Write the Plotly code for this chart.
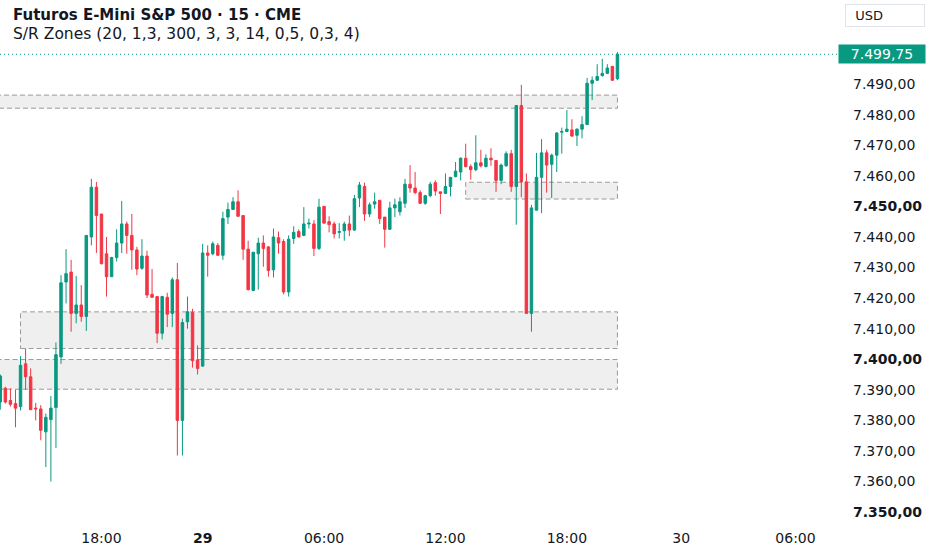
import plotly.graph_objects as go

# 15-minute bars (bar 0 = 28th 13:00)
bar_open = [
    7386.0, 7390.5, 7386.5, 7385.5, 7384.5, 7398.5, 7394.25, 7384.0, 7383.75, 7376.25,
    7380.25, 7384.25, 7400.75, 7425.25, 7428.5, 7415.0, 7417.75, 7414.0, 7440.0, 7456.25,
    7447.5, 7434.5, 7427.0, 7433.25, 7438.0, 7444.25, 7440.5, 7435.75, 7429.75, 7433.75,
    7421.25, 7420.5, 7408.5, 7420.25, 7415.0, 7426.0, 7380.0, 7412.25, 7415.25, 7399.75,
    7397.75, 7434.75, 7434.5, 7437.25, 7434.0, 7446.5, 7449.0, 7451.5, 7447.0, 7436.0,
    7422.5, 7434.5, 7438.0, 7436.75, 7429.25, 7439.75, 7438.5, 7422.0, 7439.5, 7441.75,
    7440.5, 7444.25, 7444.25, 7436.25, 7450.0, 7445.0, 7444.25, 7441.5, 7442.0, 7444.25,
    7442.25, 7452.75, 7456.5, 7447.5, 7450.75, 7452.0, 7446.5, 7442.5, 7449.5, 7448.25,
    7451.0, 7457.25, 7456.0, 7454.5, 7451.0, 7453.5, 7457.75, 7454.75, 7454.25, 7456.5,
    7459.75, 7461.25, 7465.75, 7463.0, 7462.0, 7464.25, 7463.0, 7465.75, 7465.0, 7458.5,
    7463.25, 7467.25, 7456.5, 7483.0, 7458.0, 7415.0, 7448.75, 7459.5, 7467.5, 7463.75,
    7466.75, 7474.25, 7474.5, 7475.0, 7473.25, 7475.25, 7476.75, 7490.25, 7491.25, 7492.75,
    7493.5, 7495.75, 7491.75,
]
bar_high = [
    7395.0, 7391.0, 7390.5, 7390.0, 7401.0, 7403.5, 7397.0, 7385.75, 7385.0, 7382.25,
    7388.0, 7405.5, 7427.5, 7436.0, 7432.5, 7427.25, 7424.25, 7440.5, 7459.0, 7458.0,
    7447.5, 7440.0, 7433.5, 7442.5, 7451.75, 7445.0, 7447.5, 7436.75, 7439.25, 7435.5,
    7429.5, 7420.5, 7420.75, 7421.75, 7426.75, 7431.5, 7413.25, 7420.5, 7416.5, 7404.5,
    7437.75, 7437.25, 7438.5, 7438.0, 7448.25, 7451.25, 7453.0, 7455.25, 7447.0, 7438.75,
    7435.0, 7439.75, 7440.5, 7437.0, 7442.75, 7441.75, 7439.25, 7440.5, 7443.5, 7442.5,
    7449.75, 7446.0, 7445.5, 7452.5, 7450.0, 7446.75, 7445.0, 7444.5, 7445.0, 7447.0,
    7453.75, 7458.0, 7457.75, 7451.25, 7454.5, 7452.0, 7446.5, 7451.5, 7452.5, 7453.0,
    7459.0, 7463.5, 7461.25, 7455.25, 7453.75, 7458.0, 7458.5, 7454.75, 7460.75, 7459.5,
    7464.5, 7466.0, 7470.5, 7463.75, 7473.25, 7468.5, 7467.0, 7469.0, 7465.0, 7464.0,
    7468.0, 7468.5, 7483.0, 7489.75, 7460.75, 7450.5, 7467.5, 7472.0, 7468.5, 7467.25,
    7474.25, 7475.75, 7481.5, 7478.5, 7475.5, 7479.5, 7492.0, 7492.5, 7496.5, 7498.25,
    7496.5, 7496.0, 7500.5,
]
bar_low = [
    7383.5, 7385.5, 7384.5, 7377.75, 7383.25, 7390.0, 7383.5, 7380.0, 7373.5, 7364.75,
    7360.0, 7371.0, 7398.5, 7418.25, 7409.0, 7411.75, 7412.25, 7409.25, 7437.25, 7434.75,
    7431.0, 7420.5, 7427.0, 7432.0, 7434.75, 7434.5, 7429.25, 7427.5, 7429.25, 7420.0,
    7420.0, 7405.25, 7406.5, 7410.5, 7410.5, 7368.5, 7368.5, 7410.0, 7397.25, 7395.0,
    7397.5, 7427.0, 7434.0, 7433.75, 7432.5, 7444.25, 7449.0, 7446.75, 7432.5, 7422.5,
    7422.25, 7422.75, 7430.25, 7427.0, 7426.75, 7434.5, 7421.25, 7420.5, 7437.75, 7439.75,
    7440.25, 7442.75, 7433.75, 7435.75, 7444.5, 7441.5, 7439.5, 7439.5, 7438.75, 7440.25,
    7442.0, 7449.75, 7445.25, 7446.5, 7449.25, 7444.25, 7436.5, 7442.25, 7446.5, 7447.0,
    7449.5, 7454.5, 7454.0, 7450.75, 7450.5, 7453.0, 7453.5, 7447.5, 7454.0, 7453.25,
    7459.5, 7458.5, 7462.75, 7458.75, 7461.5, 7462.75, 7462.75, 7463.25, 7454.75, 7457.25,
    7463.0, 7454.75, 7444.0, 7453.0, 7415.0, 7409.0, 7448.75, 7447.75, 7454.5, 7452.75,
    7461.25, 7467.25, 7474.25, 7472.75, 7469.75, 7472.25, 7476.75, 7484.75, 7491.0, 7492.5,
    7493.25, 7491.0, 7491.25,
]
bar_close = [
    7394.5, 7386.0, 7385.25, 7384.0, 7398.0, 7394.25, 7383.5, 7383.75, 7376.75, 7381.0,
    7384.0, 7401.5, 7425.0, 7428.0, 7415.0, 7417.75, 7414.0, 7440.5, 7456.25, 7447.0,
    7431.25, 7427.0, 7433.25, 7438.0, 7444.25, 7440.5, 7435.75, 7429.5, 7433.75, 7421.0,
    7420.25, 7408.5, 7420.5, 7414.75, 7426.0, 7380.0, 7412.0, 7415.5, 7399.5, 7397.0,
    7434.75, 7434.0, 7437.75, 7434.0, 7446.0, 7449.0, 7451.5, 7446.75, 7436.0, 7422.75,
    7435.0, 7438.0, 7436.25, 7429.0, 7440.0, 7438.0, 7422.0, 7439.25, 7441.5, 7440.0,
    7444.25, 7444.5, 7436.25, 7449.75, 7444.5, 7444.0, 7441.0, 7441.75, 7444.25, 7442.25,
    7452.5, 7457.0, 7447.5, 7450.5, 7451.5, 7446.0, 7442.5, 7449.5, 7450.5, 7451.5,
    7457.25, 7456.0, 7454.5, 7451.0, 7453.5, 7457.25, 7455.0, 7454.25, 7456.5, 7459.5,
    7461.5, 7465.75, 7463.0, 7462.0, 7464.25, 7463.25, 7465.75, 7465.25, 7458.5, 7463.5,
    7467.25, 7456.5, 7483.0, 7458.0, 7415.0, 7449.5, 7459.5, 7467.5, 7463.5, 7466.75,
    7474.0, 7474.5, 7475.25, 7473.0, 7475.25, 7476.75, 7490.25, 7491.25, 7492.5, 7493.5,
    7495.25, 7491.25, 7499.75,
]
bar_index = list(range(len(bar_close)))

# time axis labels (bar positions)
time_tick_bars = [20, 40, 64, 88, 112, 134.6, 157.2]
time_tick_labels = ["18:00", "<b>29</b>", "06:00", "12:00", "18:00", "30", "06:00"]

# price axis
price_ticks = [7350, 7360, 7370, 7380, 7390, 7400, 7410, 7420, 7430, 7440,
               7450, 7460, 7470, 7480, 7490]
bold_prices = [7350, 7400, 7450]
last_price = 7499.75

# support / resistance zones
zone_low = [7482.1, 7452.4, 7403.5, 7390.2]
zone_high = [7486.4, 7457.9, 7415.5, 7399.9]
zone_first_bar = [-5, 92, 4, -5]
zone_last_bar = 122

UP = "#089981"
DOWN = "#F23645"
TXT = "#131722"


def fmt_price(p):
    s = f"{p:,.2f}"
    return s.replace(",", "X").replace(".", ",").replace("X", ".")


fig = go.Figure()

fig.add_trace(go.Candlestick(
    x=bar_index,
    open=bar_open, high=bar_high, low=bar_low, close=bar_close,
    increasing=dict(line=dict(color=UP, width=1), fillcolor=UP),
    decreasing=dict(line=dict(color=DOWN, width=1), fillcolor=DOWN),
    whiskerwidth=0,
    hoverinfo="skip",
    showlegend=False,
))

# zones
for lo, hi, first in zip(zone_low, zone_high, zone_first_bar):
    fig.add_shape(
        type="rect", xref="x", yref="y",
        x0=first, x1=zone_last_bar, y0=lo, y1=hi,
        fillcolor="#efefef",
        line=dict(color="#9a9a9a", width=1, dash="5px,3px"),
        layer="below",
    )

# last price dotted line
fig.add_shape(
    type="line", xref="paper", yref="y",
    x0=0, x1=1, y0=last_price, y1=last_price,
    line=dict(color=UP, width=1, dash="1px,3px"),
)

price_text = []
for p in price_ticks:
    t = fmt_price(p)
    price_text.append(f"<b>{t}</b>" if p in bold_prices else t)

fig.update_xaxes(
    range=[-0.06, 165.6],
    tickvals=time_tick_bars, ticktext=time_tick_labels,
    showgrid=False, zeroline=False, showline=False, ticks="",
    rangeslider=dict(visible=False),
    tickfont=dict(family="DejaVu Sans", size=14, color=TXT),
)
fig.update_yaxes(
    side="right",
    range=[7344.8, 7517.5],
    tickvals=price_ticks, ticktext=price_text,
    showgrid=False, zeroline=False, showline=False, ticks="",
    ticklabelstandoff=14,
    tickfont=dict(family="DejaVu Sans", size=14, color=TXT),
)

annotations = [
    dict(text="<b>Futuros E-Mini S&P 500 · 15 · CME</b>",
         xref="paper", yref="paper", x=0, y=1, xanchor="left", yanchor="top",
         xshift=11, yshift=-4, showarrow=False,
         font=dict(family="DejaVu Sans", size=15, color=TXT)),
    dict(text="S/R Zones (20, 1,3, 300, 3, 3, 14, 0,5, 0,3, 4)",
         xref="paper", yref="paper", x=0, y=1, xanchor="left", yanchor="top",
         xshift=11, yshift=-23, showarrow=False,
         font=dict(family="DejaVu Sans", size=15.5, color=TXT)),
    dict(text=fmt_price(last_price),
         xref="paper", yref="y", x=1, y=last_price, xanchor="left", yanchor="middle",
         showarrow=False, bgcolor=UP, width=82, height=14, borderpad=2,
         font=dict(family="DejaVu Sans", size=14, color="white")),
    dict(text="&nbsp;&nbsp;USD",
         xref="paper", yref="paper", x=1, y=1, xanchor="left", yanchor="top",
         xshift=7, yshift=-4, showarrow=False, align="left",
         width=76, height=19, borderpad=1, borderwidth=1, bordercolor="#e0e3eb",
         font=dict(family="DejaVu Sans", size=13, color=TXT)),
]

fig.update_layout(
    width=932, height=550,
    margin=dict(l=0, r=94, t=0, b=22),
    paper_bgcolor="white", plot_bgcolor="white",
    annotations=annotations,
    showlegend=False,
    hovermode=False,
)

fig.write_html("out.html", config={"displayModeBar": False},
               post_script="document.body.style.margin='0px';")
